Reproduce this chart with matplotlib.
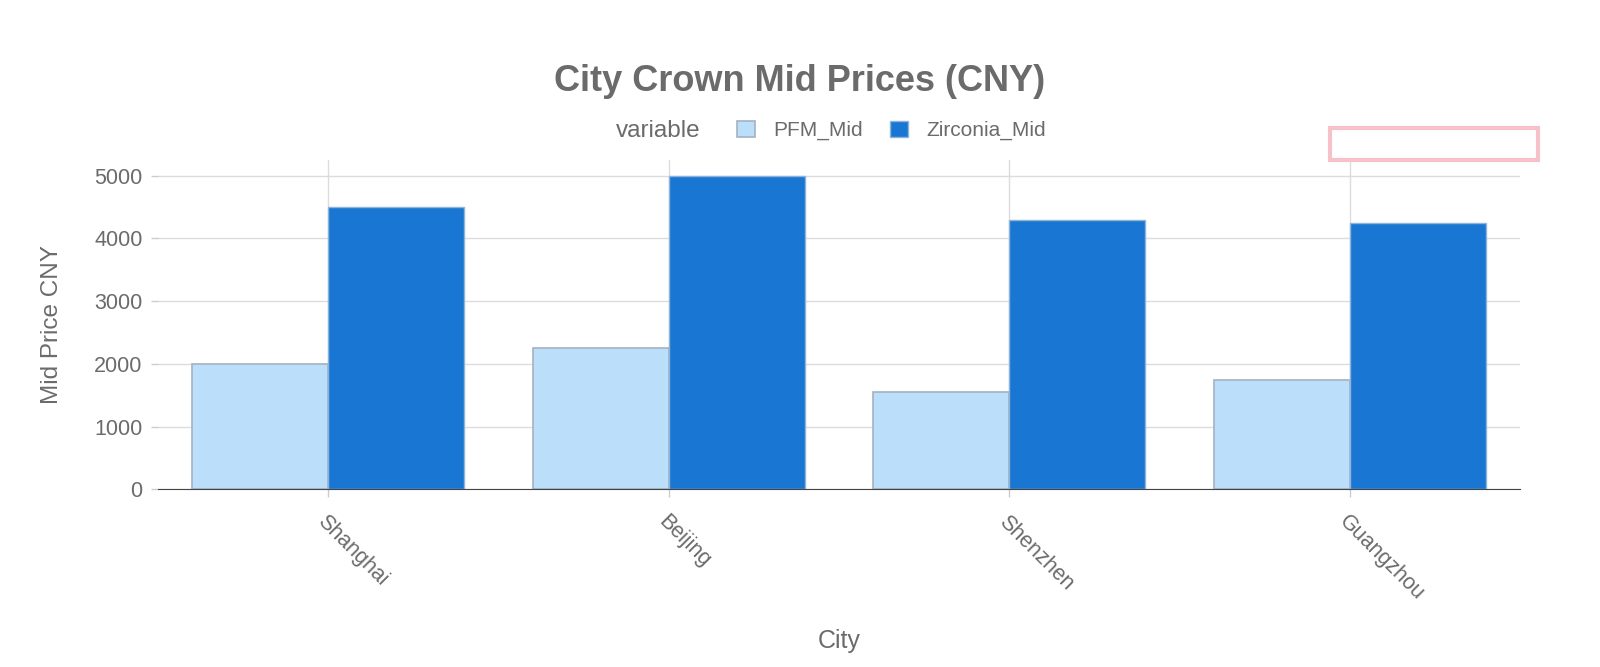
import numpy as np
import matplotlib.pyplot as plt
from matplotlib.patches import Rectangle, Patch

# Datos
ciudades = ['Shanghai', 'Beijing', 'Shenzhen', 'Guangzhou']
pfm_mid = [2000, 2250, 1550, 1750]
zirconia_mid = [4500, 5000, 4300, 4250]
series = ['PFM_Mid', 'Zirconia_Mid']

plt.rcParams['font.family'] = ['Liberation Sans', 'DejaVu Sans']
gris = '#6b6b6b'
col_pfm = '#bbdefb'
col_zir = '#1976d2'

fig = plt.figure(figsize=(16, 6.67), dpi=100)
ax = fig.add_axes([0.09875, 0.2664, 0.85125, 0.4937])

x = np.arange(len(ciudades))
w = 0.4
ax.bar(x - w/2, pfm_mid, w, color=col_pfm, edgecolor='#a3b2c2', linewidth=1.2, zorder=3)
ax.bar(x + w/2, zirconia_mid, w, color=col_zir, edgecolor='#8fb4dc', linewidth=1.0, zorder=3)

ax.set_xlim(-0.5, 3.5)
ax.set_ylim(0, 5250)
ax.set_yticks([0, 1000, 2000, 3000, 4000, 5000])
ax.set_xticks(x)
ax.set_xticklabels(ciudades, rotation=-45, ha='left', va='top', rotation_mode='anchor')

ax.grid(True, color='#dcdcdc', linewidth=1, zorder=0)
for s in ['top', 'right', 'left']:
    ax.spines[s].set_visible(False)
ax.spines['bottom'].set_color('#444444')
ax.spines['bottom'].set_zorder(4)
ax.tick_params(axis='both', colors='#cccccc', labelcolor=gris, labelsize=15.5, length=5, width=1)
ax.tick_params(axis='x', pad=10, length=6)
ax.tick_params(axis='y', pad=6)

ax.set_xlabel('City', fontsize=18, color=gris, va='center')
ax.xaxis.set_label_coords(0.5, -0.461)
ax.set_ylabel('Mid Price CNY', fontsize=17.5, color=gris, va='center')
ax.yaxis.set_label_coords(-0.078, 0.5)

fig.text(0.5, 0.878, 'City Crown Mid Prices (CNY)', ha='center', va='center',
         fontsize=26, fontweight='bold', color=gris)

# leyenda: título a la izquierda de las entradas
y_leg = 1 - 130.6 / 667
fig.text(616 / 1600, y_leg, 'variable', ha='left', va='center', fontsize=17.5, color=gris)
manejadores = [Patch(facecolor=col_pfm, edgecolor='#a3b2c2', linewidth=1.2),
               Patch(facecolor=col_zir, edgecolor='#8fb4dc', linewidth=1.0)]
leg = fig.legend(manejadores, series, loc='center left', bbox_to_anchor=(737 / 1600, y_leg),
                 ncol=2, frameon=False, fontsize=15, borderpad=0, borderaxespad=0,
                 handlelength=0.85, handleheight=0.85, handletextpad=0.9, columnspacing=1.3)
for t in leg.get_texts():
    t.set_color(gris)

# recuadro rosa arriba a la derecha
fig.patches.append(Rectangle((1330 / 1600, 1 - 160 / 667), 208 / 1600, 32 / 667,
                             transform=fig.transFigure, fill=False,
                             edgecolor='#f7c1c9', linewidth=3))

fig.savefig('out.png', dpi=100)
